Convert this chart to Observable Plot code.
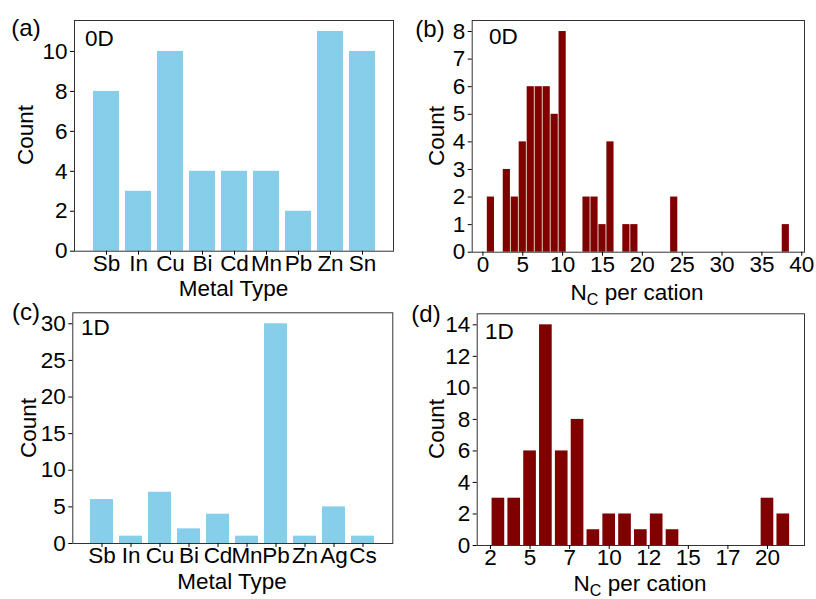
<!DOCTYPE html>
<html><head><meta charset="utf-8">
<script src="https://cdn.jsdelivr.net/npm/d3@7"></script>
<script src="https://cdn.jsdelivr.net/npm/@observablehq/plot@0.6"></script>
<style>
body{margin:0;background:#fff;}
#wrap{position:relative;width:816px;height:599px;overflow:hidden;background:#fff;}
</style></head><body><div id="wrap"></div>
<script>
// ---- data ----
const metals0D = ["Sb","In","Cu","Bi","Cd","Mn","Pb","Zn","Sn"];
const counts0D = [8,3,10,4,4,4,2,11,10];
const metals1D = ["Sb","In","Cu","Bi","Cd","Mn","Pb","Zn","Ag","Cs"];
const counts1D = [6,1,7,2,4,1,30,1,5,1];
const nc0D = [1,3,4,5,6,7,8,9,10,13,14,15,16,18,19,24,38];
const ncCounts0D = [2,3,2,4,6,6,6,5,8,2,2,1,4,1,1,2,1];
const nc1D = [3,4,5,6,7,8,9,10,11,12,13,14,20,21];
const ncCounts1D = [3,3,6,14,6,8,1,2,2,1,2,1,3,2];
const yTicksA = [0,2,4,6,8,10];
const yTicksB = [0,1,2,3,4,5,6,7,8];
const xTicksB = [0,5,10,15,20,25,30,35,40];
const yTicksC = [0,5,10,15,20,25,30];
const yTicksD = [0,2,4,6,8,10,12,14];
const xTicksD = [2.5,5,7.5,10,12.5,15,17.5,20];

const data0D = metals0D.map((m,i)=>({metal:m,count:counts0D[i]}));
const data1D = metals1D.map((m,i)=>({metal:m,count:counts1D[i]}));
const hist0D = nc0D.map((v,i)=>({nc:v,count:ncCounts0D[i]}));
const hist1D = nc1D.map((v,i)=>({nc:v,count:ncCounts1D[i]}));

const FONT = "'Liberation Sans', Arial, Helvetica, sans-serif";
const FS = 22.5;
const BLUE = "#87CEEB", RED = "#800000", FRAME = "#333";
const wrap = document.getElementById("wrap");
const common = {style:{fontFamily:FONT,fontSize:FS+"px",background:"transparent",overflow:"visible",color:"#000"}};

function place(svg,left,top){svg.style.position="absolute";svg.style.left=left+"px";svg.style.top=top+"px";wrap.appendChild(svg);}
function txt(svg,x,y,s,opt={}){
  const t=d3.select(svg).append("text").attr("x",x).attr("y",y).attr("text-anchor",opt.anchor||"middle")
    .attr("dominant-baseline","central").attr("font-family",FONT).attr("font-size",opt.size||FS).attr("fill","#000").text(s);
  if(opt.rotate) t.attr("transform",`rotate(-90,${x},${y})`);
  return t;
}
function ncLabel(svg,x,y){
  const t=d3.select(svg).append("text").attr("x",x).attr("y",y).attr("text-anchor","middle")
    .attr("font-family",FONT).attr("font-size",FS).attr("fill","#000");
  t.append("tspan").text("N");
  t.append("tspan").attr("font-size",16).attr("dy",5).text("C");
  t.append("tspan").attr("dy",-5).text(" per cation");
}

// (a)
const pa = Plot.plot({...common,width:408,height:300,marginLeft:74,marginRight:15,marginTop:20,marginBottom:49.3,
  x:{type:"band",domain:metals0D,paddingInner:0.2,paddingOuter:0.44},
  y:{domain:[0,11.55]},
  marks:[
    Plot.barY(data0D,{x:"metal",y:"count",fill:BLUE}),
    Plot.frame({stroke:FRAME}),
    Plot.axisX({tickSize:4,tickPadding:0,fontSize:FS,label:null}),
    Plot.axisY({ticks:yTicksA,tickSize:4,tickPadding:3,fontSize:FS,label:null})
  ]});
place(pa,0,0);
txt(pa,25,135,"Count",{rotate:true});
txt(pa,233.5,288.5,"Metal Type");
txt(pa,26,27,"(a)",{size:24});
txt(pa,85,38,"0D",{anchor:"start"});

// (b)
const pb = Plot.plot({...common,width:408,height:300,marginLeft:63.7,marginRight:12,marginTop:20,marginBottom:48.3,
  x:{type:"linear",domain:[-1.345,40.345]},
  y:{domain:[0,8.4]},
  marks:[
    Plot.rectY(hist0D,{x1:d=>d.nc-0.45,x2:d=>d.nc+0.45,y:"count",fill:RED}),
    Plot.frame({stroke:FRAME}),
    Plot.axisX({ticks:xTicksB,tickSize:4,tickPadding:0,fontSize:FS,label:null}),
    Plot.axisY({ticks:yTicksB,tickSize:4,tickPadding:3,fontSize:FS,label:null})
  ]});
place(pb,408,0);
txt(pb,28,136,"Count",{rotate:true});
ncLabel(pb,229,300);
txt(pb,22,28,"(b)",{size:24});
txt(pb,81,36,"0D",{anchor:"start"});

// (c)
const pc = Plot.plot({...common,width:408,height:299,marginLeft:72.3,marginRight:15.7,marginTop:12.3,marginBottom:56,
  x:{type:"band",domain:metals1D,paddingInner:0.2,paddingOuter:0.49},
  y:{domain:[0,31.5]},
  marks:[
    Plot.barY(data1D,{x:"metal",y:"count",fill:BLUE}),
    Plot.frame({stroke:FRAME}),
    Plot.axisX({tickSize:4,tickPadding:0,fontSize:FS,label:null}),
    Plot.axisY({ticks:yTicksC,tickSize:4,tickPadding:3,fontSize:FS,label:null})
  ]});
place(pc,0,300);
txt(pc,28,128,"Count",{rotate:true});
txt(pc,232,281,"Metal Type");
txt(pc,26,11,"(c)",{size:24});
txt(pc,81,27,"1D",{anchor:"start"});

// (d)
const pd = Plot.plot({...common,width:408,height:299,marginLeft:68.7,marginRight:12,marginTop:13.3,marginBottom:54,
  x:{type:"linear",domain:[1.66,22.34]},
  y:{domain:[0,14.7]},
  marks:[
    Plot.rectY(hist1D,{x1:d=>d.nc-0.4,x2:d=>d.nc+0.4,y:"count",fill:RED}),
    Plot.frame({stroke:FRAME}),
    Plot.axisX({ticks:xTicksD,tickFormat:d=>String(Math.floor(d)),tickSize:4,tickPadding:0,fontSize:FS,label:null}),
    Plot.axisY({ticks:yTicksD,tickSize:4,tickPadding:3,fontSize:FS,label:null})
  ]});
place(pd,408,300);
txt(pd,28,129,"Count",{rotate:true});
ncLabel(pd,232,291);
txt(pd,18,13,"(d)",{size:24});
txt(pd,77,31,"1D",{anchor:"start"});
</script></body></html>
